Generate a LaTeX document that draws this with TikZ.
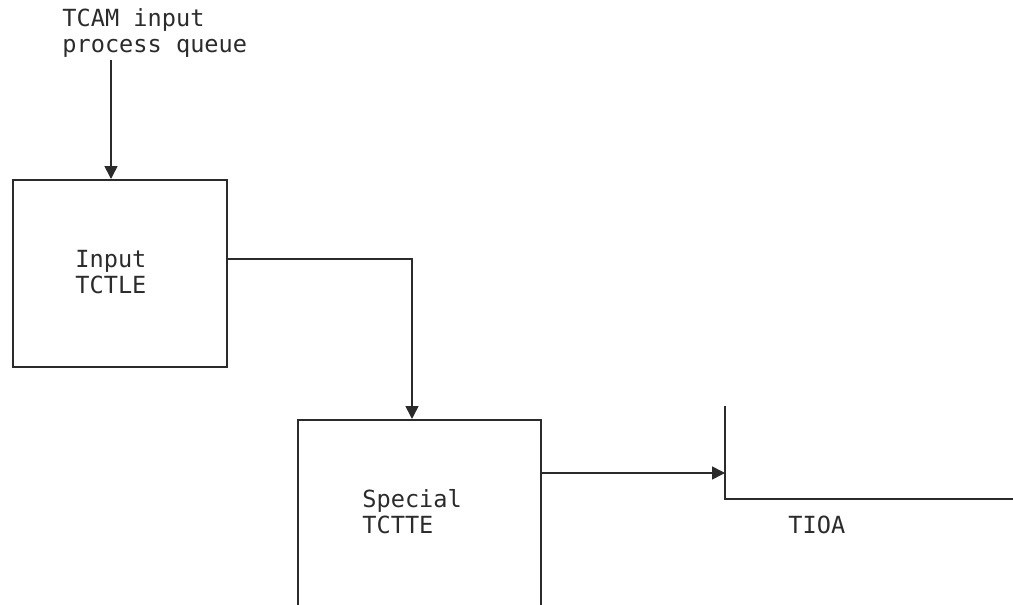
\documentclass[tikz,border=0pt]{standalone}
\usepackage{fontspec}
\newfontfamily\diagfont{DejaVu Sans Mono}
\usetikzlibrary{arrows.meta}
\usetikzlibrary{positioning}

\definecolor{inkgray}{HTML}{2B2B2B}

\tikzset{
    blockbox/.style={draw=inkgray, line width=0.8pt, inner sep=0pt},
    flowline/.style={draw=inkgray, line width=0.8pt, -{Triangle[length=6.5pt, width=6.5pt]}},
    plainline/.style={draw=inkgray, line width=0.8pt},
    labeltext/.style={inner sep=0pt, anchor=base west, align=left, text=inkgray,
        font=\diagfont\fontsize{11.8}{12.8}\selectfont}
}

\begin{document}
\begin{tikzpicture}[x=0.5pt, y=-0.5pt]

    % Page frame (1013 x 605 px)
    \useasboundingbox (0,0) rectangle (1013,605);
    \clip (0,0) rectangle (1013,605);

    % Boxes
    \node [blockbox, minimum width=107pt, minimum height=93.5pt, anchor=north west] (input) at (12,179) {};
    \node [blockbox, minimum width=121.5pt, minimum height=120pt, anchor=north west] (special) at (297,419) {};

    % Queue head and TIOA corner
    \coordinate (queue) at (111,60);
    \coordinate (tioatop) at (725,406);
    \coordinate (tioacorner) at (725,499);
    \coordinate (tioaend) at (1013,499);
    \coordinate (tioain) at (725,473);

    \draw [plainline] (tioatop) -- (tioacorner) -- (tioaend);

    % Texts (base west = baseline of the last line)
    \node [labeltext] (queuetext) at (62,52) {TCAM input\\process queue};
    \node [labeltext] (inputtext) at (75,293) {Input\\TCTLE};
    \node [labeltext] (specialtext) at (362,533) {Special\\TCTTE};
    \node [labeltext] (tioatext) at (788,533) {TIOA};

    % Connectors
    \draw [flowline] (queue) -- (queue |- input.north);
    \draw [flowline] (input.east |- 0,259) -| (special.north -| 412,0);
    \draw [flowline] (special.east |- tioain) -- (tioain);

\end{tikzpicture}
\end{document}
